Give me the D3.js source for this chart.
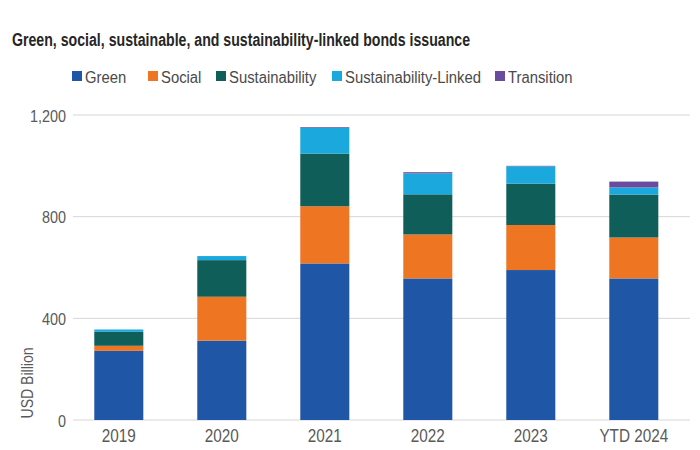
<!DOCTYPE html>
<html>
<head>
<meta charset="utf-8">
<script src="https://cdn.jsdelivr.net/npm/d3@7"></script>
<style>
  html, body { margin: 0; padding: 0; background: #fff; }
  svg { display: block; font-family: "Liberation Sans", Arial, sans-serif; }
</style>
</head>
<body>
<svg id="chart" width="700" height="450"></svg>
<script>
const categories = ["2019", "2020", "2021", "2022", "2023", "YTD 2024"];
const seriesNames = ["Green", "Social", "Sustainability", "Sustainability-Linked", "Transition"];
const green = [272, 312, 616, 557, 590, 557];
const social = [20, 173, 225, 173, 177, 161];
const sustainability = [55, 144, 207, 158, 163, 169];
const sustainabilityLinked = [9, 16, 101, 82, 68, 28];
const transition = [0, 0, 3, 5, 2, 23];
const yTicks = [0, 400, 800, 1200];
const colors = ["#1f56a6", "#ee7623", "#0f5e5a", "#1ba8dd", "#6a4c9f"];

const seriesValues = [green, social, sustainability, sustainabilityLinked, transition];
const rows = categories.map((c, i) => {
  const r = { category: c };
  seriesNames.forEach((s, j) => r[s] = seriesValues[j][i]);
  return r;
});

// condense a group of texts so that the reference node reaches a target width
function condense(sel, refIndex, target) {
  const nodes = sel.nodes();
  const k = target / nodes[refIndex].getComputedTextLength();
  nodes.forEach(n => {
    const w = n.getComputedTextLength();
    n.setAttribute("textLength", w * k);
    n.setAttribute("lengthAdjust", "spacingAndGlyphs");
  });
}

const svg = d3.select("#chart");

const x = d3.scaleBand().domain(categories).range([67.3, 685.3])
  .paddingInner(0.524).paddingOuter(0.262);
const y = d3.scaleLinear().domain([0, 1200]).range([420, 115]);

// Title
const title = svg.append("text").attr("x", 12).attr("y", 45.5)
  .attr("font-size", 17.5).attr("font-weight", "bold").attr("fill", "#262626")
  .text("Green, social, sustainable, and sustainability-linked bonds issuance");
condense(title, 0, 458);

// Gridlines
svg.append("g").selectAll("line").data(yTicks).join("line")
  .attr("x1", 73).attr("x2", 690)
  .attr("y1", d => y(d)).attr("y2", d => y(d))
  .attr("stroke", "#d6d6d6").attr("stroke-width", 1);

// Y axis labels
const yAxis = d3.axisLeft(y).tickValues(yTicks).tickSize(0).tickPadding(0)
  .tickFormat(d3.format(","));
const gy = svg.append("g").attr("transform", "translate(66,0)").call(yAxis);
gy.select(".domain").remove();
gy.selectAll("text").attr("font-size", 17).attr("fill", "#595959")
  .attr("font-family", "inherit").attr("dy", "0.36em");
condense(gy.selectAll("text"), 3, 36);

// Y axis title
const ytitle = svg.append("text").attr("transform", "translate(32.5,383) rotate(-90)")
  .attr("text-anchor", "middle").attr("font-size", 16).attr("fill", "#595959")
  .text("USD Billion");
condense(ytitle, 0, 71);

// X axis labels
const xAxis = d3.axisBottom(x).tickSize(0).tickPadding(0);
const gx = svg.append("g").attr("transform", "translate(0,442)").call(xAxis);
gx.select(".domain").remove();
gx.selectAll("text").attr("font-size", 17.5).attr("fill", "#595959")
  .attr("font-family", "inherit").attr("dy", "0");
condense(gx.selectAll("text"), 0, 34);

// Bars
const stack = d3.stack().keys(seriesNames);
const stacked = stack(rows);
svg.append("g").selectAll("g").data(stacked).join("g")
  .attr("fill", (d, i) => colors[i])
  .selectAll("rect").data(d => d).join("rect")
  .attr("x", d => x(d.data.category))
  .attr("width", x.bandwidth())
  .attr("y", d => y(d[1]))
  .attr("height", d => Math.max(0, y(d[0]) - y(d[1])));

// Legend
const legendX = [72, 148, 216, 332, 495];
const lg = svg.append("g").selectAll("g").data(seriesNames).join("g")
  .attr("transform", (d, i) => `translate(${legendX[i]},71)`);
lg.append("rect").attr("width", 10).attr("height", 10).attr("y", 0)
  .attr("fill", (d, i) => colors[i]);
lg.append("text").attr("x", 13).attr("y", 11.8).attr("font-size", 16)
  .attr("fill", "#4a4a4a").text(d => d);
condense(lg.selectAll("text"), 3, 136);
</script>
</body>
</html>
